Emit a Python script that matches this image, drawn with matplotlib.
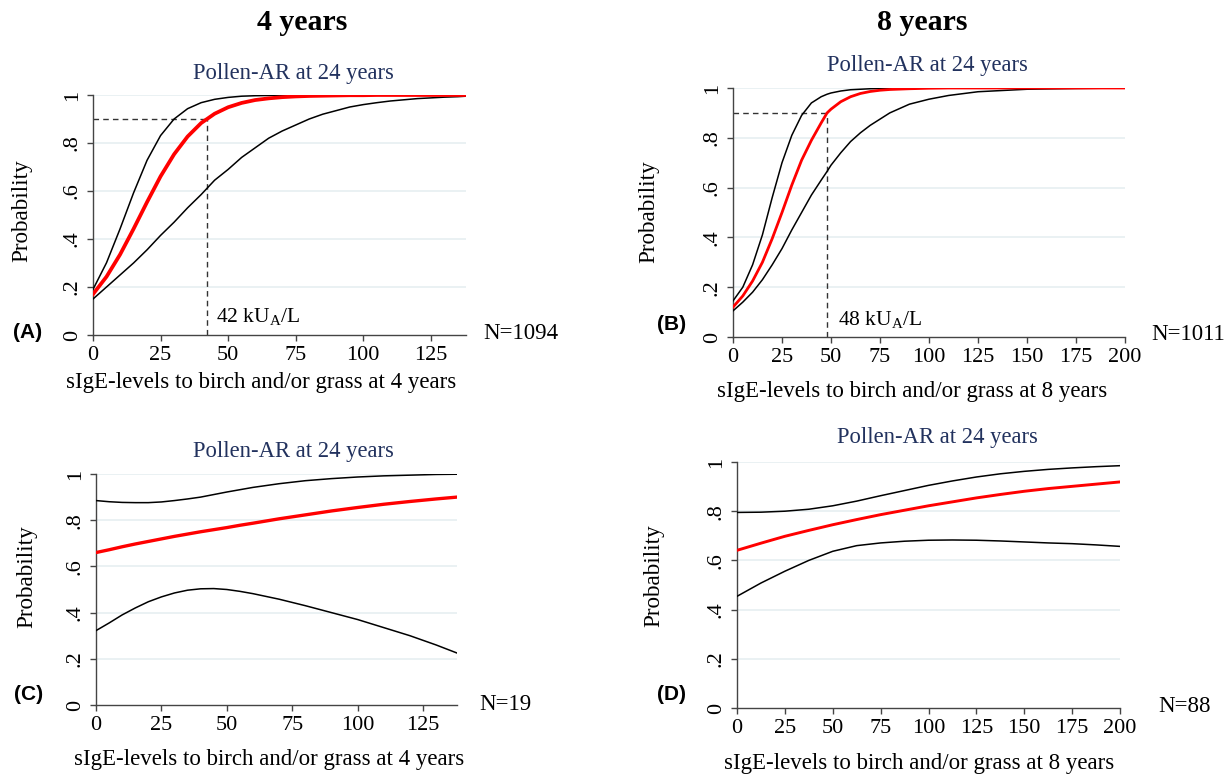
import matplotlib
matplotlib.use("Agg")
import matplotlib.pyplot as plt

plt.rcParams['font.family'] = ['Liberation Serif', 'DejaVu Serif']
plt.rcParams['mathtext.fontset'] = 'custom'
plt.rcParams['mathtext.rm'] = 'Liberation Serif'

# ---------------- data ----------------
# Panel A: 4 years, N=1094
xA = [0, 5, 10, 15, 20, 25, 30, 35, 40, 45, 50, 55, 60, 65, 70, 75, 80, 85, 90, 95,
      100, 105, 110, 115, 120, 125, 130, 135, 138]
midA = [0.170, 0.243, 0.335, 0.442, 0.554, 0.661, 0.753, 0.827, 0.883, 0.922, 0.949,
        0.967, 0.979, 0.986, 0.991, 0.994, 0.996, 0.997, 0.998, 0.999, 0.999, 1.0, 1.0,
        1.0, 1.0, 1.0, 1.0, 1.0, 1.0]
upA = [0.19, 0.301, 0.442, 0.592, 0.728, 0.831, 0.900, 0.943, 0.968, 0.982, 0.990,
       0.995, 0.997, 0.998, 0.999, 1.0, 1.0, 1.0, 1.0, 1.0, 1.0, 1.0, 1.0, 1.0, 1.0,
       1.0, 1.0, 1.0, 1.0]
loA = [0.150, 0.200, 0.250, 0.300, 0.355, 0.415, 0.470, 0.530, 0.585, 0.645, 0.690,
       0.740, 0.780, 0.820, 0.850, 0.875, 0.900, 0.920, 0.935, 0.950, 0.960, 0.968,
       0.975, 0.980, 0.985, 0.988, 0.991, 0.993, 0.995]

# Panel B: 8 years, N=1011
xB = [0, 5, 10, 15, 20, 25, 30, 35, 40, 45, 48, 50, 55, 60, 65, 70, 75, 80, 90, 100,
      110, 125, 150, 175, 200]
midB = [0.120, 0.165, 0.225, 0.300, 0.395, 0.500, 0.610, 0.710, 0.790, 0.860, 0.900,
        0.915, 0.945, 0.965, 0.978, 0.986, 0.991, 0.994, 0.997, 0.999, 1.0, 1.0, 1.0,
        1.0, 1.0]
upB = [0.145, 0.200, 0.290, 0.410, 0.560, 0.700, 0.810, 0.890, 0.940, 0.965, 0.975,
       0.980, 0.988, 0.993, 0.995, 0.997, 0.998, 0.999, 1.0, 1.0, 1.0, 1.0, 1.0, 1.0,
       1.0]
loB = [0.105, 0.140, 0.180, 0.230, 0.290, 0.355, 0.430, 0.500, 0.570, 0.630, 0.665,
       0.690, 0.740, 0.785, 0.820, 0.850, 0.875, 0.900, 0.935, 0.955, 0.970, 0.985,
       0.995, 0.998, 1.0]

# Panel C: 4 years, N=19
xC = [0, 5, 10, 15, 20, 25, 30, 35, 40, 45, 50, 55, 60, 70, 80, 90, 100, 110, 120,
      130, 138]
midC = [0.660, 0.672, 0.685, 0.697, 0.708, 0.719, 0.730, 0.740, 0.750, 0.759, 0.768,
        0.778, 0.787, 0.806, 0.823, 0.840, 0.855, 0.869, 0.881, 0.892, 0.900]
upC = [0.885, 0.880, 0.877, 0.876, 0.876, 0.879, 0.885, 0.892, 0.900, 0.911, 0.922,
       0.932, 0.942, 0.958, 0.971, 0.980, 0.987, 0.992, 0.995, 0.998, 0.999]
loC = [0.322, 0.355, 0.390, 0.420, 0.447, 0.468, 0.485, 0.497, 0.503, 0.504, 0.500,
       0.492, 0.482, 0.458, 0.430, 0.400, 0.370, 0.335, 0.300, 0.260, 0.225]

# Panel D: 8 years, N=88
xD = [0, 12.5, 25, 37.5, 50, 62.5, 75, 87.5, 100, 112.5, 125, 137.5, 150, 162.5, 175,
      187.5, 200]
midD = [0.641, 0.670, 0.698, 0.722, 0.745, 0.766, 0.786, 0.804, 0.822, 0.838, 0.854,
        0.868, 0.881, 0.892, 0.901, 0.910, 0.919]
upD = [0.795, 0.796, 0.800, 0.808, 0.822, 0.841, 0.863, 0.884, 0.905, 0.923, 0.939,
       0.952, 0.962, 0.970, 0.976, 0.981, 0.985]
loD = [0.454, 0.508, 0.556, 0.600, 0.637, 0.660, 0.671, 0.678, 0.682, 0.683, 0.682,
       0.679, 0.675, 0.671, 0.668, 0.663, 0.657]

yticks = [0, 0.2, 0.4, 0.6, 0.8, 1.0]
yticklabels = ["0", ".2", ".4", ".6", ".8", "1"]
xticks4 = [0, 25, 50, 75, 100, 125]
xticks8 = [0, 25, 50, 75, 100, 125, 150, 175, 200]

subtitle = "Pollen-AR at 24 years"
xlab4 = "sIgE-levels to birch and/or grass at 4 years"
xlab8 = "sIgE-levels to birch and/or grass at 8 years"
cutA, cutB = 42, 48

# ---------------- figure ----------------
fig = plt.figure(figsize=(12.3, 7.77), dpi=100)
W, H = 1230, 777


def fx(px):
    return px / W


def fy(py):
    return 1 - py / H


def make_ax(left, top, right, bottom):
    return fig.add_axes([fx(left), fy(bottom), (right - left) / W, (bottom - top) / H])


navy = "#22325e"
grid_c = "#e6eff1"
spine_c = "#444444"
TICK_FS = 16
LAB_FS = 16.5
SUB_FS = 16.3


def panel(box, x, mid, up, lo, xmax, xticks, xlab, mid_lw, sub_xy, ylab_xy, xlab_xy):
    ax = make_ax(*box)
    ax.set_xlim(0, xmax)
    ax.set_ylim(0, 1)
    for y in yticks[1:]:
        ax.axhline(y, color=grid_c, lw=1.2, zorder=0)
    ax.plot(x, up, color="black", lw=1.1, zorder=3)
    ax.plot(x, lo, color="black", lw=1.1, zorder=3)
    ax.plot(x, mid, color="#ff0000", lw=mid_lw, zorder=4)
    for s in ["top", "right"]:
        ax.spines[s].set_visible(False)
    for s in ["left", "bottom"]:
        ax.spines[s].set_color(spine_c)
        ax.spines[s].set_linewidth(1.0)
    ax.set_yticks(yticks)
    ax.set_yticklabels(yticklabels, rotation=90, va="center", fontsize=TICK_FS)
    ax.set_xticks(xticks)
    ax.set_xticklabels([str(t) for t in xticks], fontsize=TICK_FS)
    ax.tick_params(axis="x", direction="out", length=4, width=1, color=spine_c, pad=4)
    ax.tick_params(axis="y", direction="out", length=4, width=1, color=spine_c, pad=4)
    fig.text(fx(sub_xy[0]), fy(sub_xy[1]), subtitle, fontsize=SUB_FS, color=navy,
             ha="center", va="center")
    fig.text(fx(ylab_xy[0]), fy(ylab_xy[1]), "Probability", fontsize=16.7,
             rotation=90, ha="center", va="center")
    fig.text(fx(xlab_xy[0]), fy(xlab_xy[1]), xlab, fontsize=LAB_FS,
             ha="center", va="center")
    return ax


axA = panel((93, 95, 466, 335), xA, midA, upA, loA, 138, xticks4, xlab4, 2.7,
            (293, 73), (22, 211), (261, 382))
axB = panel((733, 88, 1125, 337), xB, midB, upB, loB, 200, xticks8, xlab8, 2.0,
            (927, 65), (649, 212), (912, 392))
axC = panel((96, 474, 457, 705), xC, midC, upC, loC, 138, xticks4, xlab4, 2.4,
            (293, 452), (27, 577), (269, 760))
axD = panel((737, 462, 1120, 708), xD, midD, upD, loD, 200, xticks8, xlab8, 2.1,
            (937, 438), (654, 576), (919, 763))

# dashed threshold lines
dash = (0, (4, 3))
axA.plot([0, cutA], [0.9, 0.9], color="#333333", lw=1.0, ls=dash, zorder=2)
axA.plot([cutA, cutA], [0, 0.9], color="#333333", lw=1.0, ls=dash, zorder=2)
axB.plot([0, cutB], [0.9, 0.9], color="#333333", lw=1.0, ls=dash, zorder=2)
axB.plot([cutB, cutB], [0, 0.9], color="#333333", lw=1.0, ls=dash, zorder=2)
axA.text(cutA + 3.5, 0.075, r"42 kU$_\mathrm{A}$/L", fontsize=15.5, va="center", ha="left")
axB.text(cutB + 5.5, 0.068, r"48 kU$_\mathrm{A}$/L", fontsize=15.5, va="center", ha="left")

# N labels
fig.text(fx(483), fy(334), "N=1094", fontsize=16.5, va="center", ha="left")
fig.text(fx(1151), fy(335), "N=1011", fontsize=16.5, va="center", ha="left")
fig.text(fx(479), fy(705), "N=19", fontsize=16.5, va="center", ha="left")
fig.text(fx(1158), fy(707), "N=88", fontsize=16.5, va="center", ha="left")

# panel letters
for txt, x, y in [("(A)", 13, 332), ("(B)", 657, 325), ("(C)", 14, 695), ("(D)", 657, 695)]:
    fig.text(fx(x), fy(y), txt, fontsize=15, fontweight="bold",
             family=["Liberation Sans", "DejaVu Sans"], va="center", ha="left")

# column headers
fig.text(fx(302), fy(23), "4 years", fontsize=21.5, fontweight="bold", ha="center", va="center")
fig.text(fx(922), fy(23), "8 years", fontsize=21.5, fontweight="bold", ha="center", va="center")

fig.savefig("out.png", dpi=100, facecolor="white")
